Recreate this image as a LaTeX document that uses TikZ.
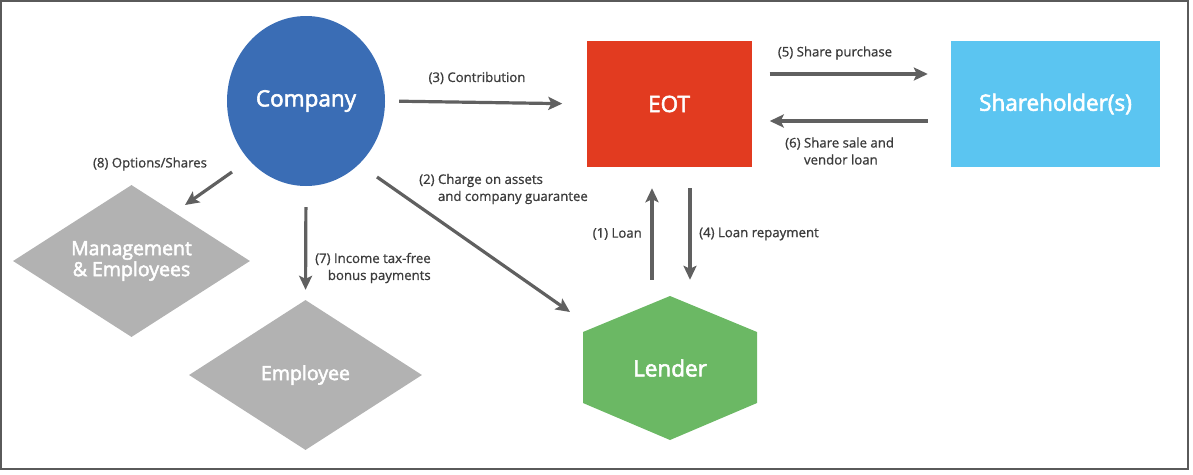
\documentclass[tikz,border=0pt]{standalone}
\usepackage{fontspec}
\setmainfont{Open Sans}
\newfontfamily\nodefont[FakeBold=2.5]{Open Sans}
\newfontfamily\lblfont[FakeBold=1]{Open Sans}
\usetikzlibrary{arrows.meta,shapes.geometric}
\definecolor{cblue}{HTML}{3A6DB5}
\definecolor{cred}{HTML}{E23B20}
\definecolor{csky}{HTML}{5BC5F1}
\definecolor{cgreen}{HTML}{6BB864}
\definecolor{cgray}{HTML}{B2B2B2}
\definecolor{carrow}{HTML}{606060}
\definecolor{ctext}{HTML}{3C3C3C}
\definecolor{cframe}{HTML}{5A5A5A}
\tikzset{
  bignode/.style={text=white,font=\nodefont\fontsize{22.5}{26}\selectfont,inner sep=0pt,align=center},
  dianode/.style={text=white,font=\nodefont\fontsize{19.5}{24}\selectfont,inner sep=0pt,align=center},
  flow/.style={draw=carrow,line width=3.2pt,-{Stealth[length=14pt,width=13pt,inset=3pt]}},
  lbl/.style={text=ctext,font=\lblfont\fontsize{13.2}{17}\selectfont,inner sep=0pt,align=left},
}
\begin{document}
\begin{tikzpicture}[x=1pt,y=-1pt]
\useasboundingbox (0,0) rectangle (1193,474);
\draw[cframe,line width=1.6pt] (1,1) rectangle (1188,469);
% shapes
\node[bignode,ellipse,fill=cblue,minimum width=158pt,minimum height=170pt] (company) at (306,101) {Company};
\node[bignode,rectangle,fill=cred,minimum width=165pt,minimum height=126pt] (eot) at (669,104) {EOT};
\node[bignode,rectangle,fill=csky,minimum width=209pt,minimum height=126pt] (sh) at (1055.5,104) {Shareholder(s)};
\node[dianode,diamond,fill=cgray,shape aspect=1.56,minimum width=237pt,minimum height=152pt] (mgmt) at (131.5,261) {Management\\[-3pt]\& Employees};
\node[dianode,diamond,fill=cgray,shape aspect=1.55,minimum width=233pt,minimum height=150pt] (emp) at (305.5,375) {Employee};
\fill[cgreen] (670,296) -- (757,332) -- (757,403) -- (670,440) -- (583,403) -- (583,332) -- cycle;
\node[bignode,minimum width=174pt,minimum height=144pt] (lender) at (670,368) {Lender};
% free ends
\coordinate (c2s) at (377,177);
\coordinate (c2e) at (570,312);
\coordinate (c8s) at (232,172);
\coordinate (c8e) at (185,205);
% connectors
\draw[flow,shorten <=14pt,shorten >=24pt] (company.east) -- (eot.west);
\draw[flow,shorten <=18pt,shorten >=23pt] ([yshift=30pt]eot.east) -- ([yshift=30pt]sh.west);
\draw[flow,shorten <=23pt,shorten >=18pt] ([yshift=-17pt]sh.west) -- ([yshift=-17pt]eot.east);
\draw[flow,shorten <=16pt,shorten >=21pt] ([xshift=-18pt]lender.north) -- ([xshift=-17pt]eot.south);
\draw[flow,shorten <=21pt,shorten >=16pt] ([xshift=21pt]eot.south) -- ([xshift=20pt]lender.north);
\draw[flow] (c2s) -- (c2e);
\draw[flow,shorten <=21pt,shorten >=10pt] (company.south) -- (emp.north);
\draw[flow] (c8s) -- (c8e);
% labels
\node[lbl] (l3) at (477,78) {(3) Contribution};
\node[lbl] (l5) at (835,53) {(5) Share purchase};
\node[lbl,anchor=west] (l6) at (785,152) {(6)~Share sale and\\\phantom{(6)~}vendor loan};
\node[lbl,anchor=west] (l2) at (419,189) {(2)~Charge on assets\\\phantom{(2)~}and company guarantee};
\node[lbl,anchor=east] (l1) at (642,234) {(1) Loan};
\node[lbl,anchor=west] (l4) at (699,234) {(4) Loan repayment};
\node[lbl,anchor=west,align=right] (l7) at (315,268) {(7) Income tax-free\\bonus payments};
\node[lbl] (l8) at (150,164) {(8) Options/Shares};
\end{tikzpicture}
\end{document}
